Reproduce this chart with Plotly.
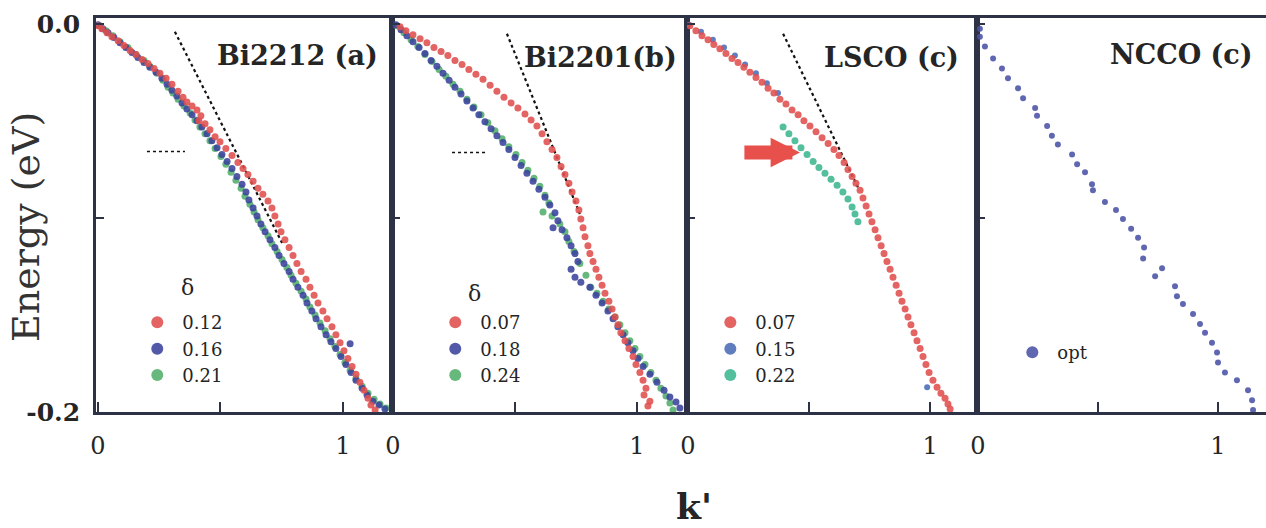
import plotly.graph_objects as go

# ---------------- data: k' (x) and energy in eV (y) ----------------
# Bi2212, doping 0.12 / 0.16 / 0.21
k_bi2212_012 = [0.000, 0.016, 0.037, 0.057, 0.082, 0.106, 0.131, 0.155, 0.180, 0.204,
                0.229, 0.253, 0.278, 0.302, 0.327, 0.347, 0.363, 0.384, 0.404, 0.420,
                0.412, 0.437, 0.457, 0.478, 0.498, 0.522, 0.547, 0.571, 0.592, 0.612,
                0.633, 0.653, 0.673, 0.694, 0.710, 0.722, 0.735, 0.747, 0.763, 0.780,
                0.796, 0.812, 0.829, 0.849, 0.865, 0.882, 0.898, 0.918, 0.935, 0.955,
                0.971, 0.988, 1.004, 1.020, 1.037, 1.053, 1.069, 1.086, 1.102, 1.114, 1.131]
e_bi2212_012 = [-0.0010, -0.0026, -0.0046, -0.0066, -0.0087, -0.0112, -0.0138, -0.0158, -0.0184, -0.0204,
                -0.0230, -0.0255, -0.0281, -0.0311, -0.0347, -0.0378, -0.0403, -0.0423, -0.0444, -0.0474,
                -0.0500, -0.0515, -0.0546, -0.0582, -0.0607, -0.0643, -0.0679, -0.0714, -0.0745, -0.0776,
                -0.0811, -0.0847, -0.0878, -0.0913, -0.0949, -0.0990, -0.1031, -0.1071, -0.1112, -0.1153,
                -0.1194, -0.1235, -0.1276, -0.1316, -0.1357, -0.1398, -0.1439, -0.1480, -0.1520, -0.1561,
                -0.1602, -0.1643, -0.1684, -0.1724, -0.1765, -0.1806, -0.1847, -0.1888, -0.1929, -0.1964, -0.1990]
k_bi2212_016 = [0.000, 0.020, 0.041, 0.065, 0.090, 0.114, 0.139, 0.163, 0.188, 0.212,
                0.237, 0.261, 0.282, 0.302, 0.322, 0.343, 0.363, 0.384, 0.404, 0.424,
                0.445, 0.465, 0.486, 0.506, 0.527, 0.547, 0.567, 0.588, 0.604, 0.616,
                0.633, 0.649, 0.665, 0.682, 0.702, 0.722, 0.739, 0.759, 0.780, 0.796,
                0.816, 0.837, 0.853, 0.873, 0.890, 0.910, 0.931, 0.951, 0.971, 1.029,
                0.992, 1.012, 1.033, 1.053, 1.078, 1.098, 1.122, 1.147, 1.171]
e_bi2212_016 = [-0.0005, -0.0026, -0.0046, -0.0071, -0.0097, -0.0122, -0.0148, -0.0173, -0.0199, -0.0224,
                -0.0250, -0.0281, -0.0311, -0.0342, -0.0372, -0.0408, -0.0439, -0.0469, -0.0500, -0.0531,
                -0.0566, -0.0602, -0.0638, -0.0673, -0.0709, -0.0745, -0.0786, -0.0827, -0.0867, -0.0908,
                -0.0949, -0.0990, -0.1031, -0.1071, -0.1112, -0.1153, -0.1194, -0.1235, -0.1276, -0.1316,
                -0.1357, -0.1398, -0.1439, -0.1480, -0.1520, -0.1561, -0.1602, -0.1638, -0.1673, -0.1648,
                -0.1714, -0.1755, -0.1796, -0.1837, -0.1878, -0.1913, -0.1944, -0.1964, -0.1985]
k_bi2212_021 = [0.008, 0.033, 0.061, 0.090, 0.122, 0.155, 0.188, 0.212, 0.241, 0.265,
                0.286, 0.306, 0.327, 0.351, 0.376, 0.396, 0.416, 0.437, 0.457, 0.478,
                0.502, 0.522, 0.543, 0.563, 0.584, 0.600, 0.620, 0.637, 0.653, 0.673,
                0.694, 0.710, 0.731, 0.751, 0.771, 0.788, 0.808, 0.829, 0.849, 0.865,
                0.886, 0.906, 0.927, 0.947, 0.967, 0.988, 1.008, 1.029, 1.053, 1.078,
                1.102, 1.127, 1.151, 1.176]
e_bi2212_021 = [-0.0010, -0.0036, -0.0061, -0.0092, -0.0122, -0.0158, -0.0189, -0.0219, -0.0255, -0.0291,
                -0.0327, -0.0357, -0.0388, -0.0423, -0.0459, -0.0495, -0.0531, -0.0566, -0.0602, -0.0643,
                -0.0684, -0.0724, -0.0765, -0.0806, -0.0847, -0.0888, -0.0929, -0.0969, -0.1010, -0.1051,
                -0.1092, -0.1133, -0.1173, -0.1214, -0.1255, -0.1296, -0.1337, -0.1378, -0.1418, -0.1459,
                -0.1500, -0.1541, -0.1582, -0.1622, -0.1663, -0.1704, -0.1745, -0.1786, -0.1827, -0.1867,
                -0.1903, -0.1934, -0.1959, -0.1980]

# Bi2201, doping 0.07 / 0.18 / 0.24
k_bi2201_007 = [0.029, 0.053, 0.082, 0.111, 0.139, 0.168, 0.197, 0.225, 0.254, 0.283,
                0.311, 0.340, 0.369, 0.398, 0.426, 0.455, 0.484, 0.512, 0.541, 0.566,
                0.590, 0.611, 0.631, 0.652, 0.672, 0.689, 0.705, 0.721, 0.734, 0.750,
                0.762, 0.770, 0.779, 0.787, 0.799, 0.807, 0.820, 0.832, 0.844, 0.857,
                0.869, 0.885, 0.898, 0.910, 0.922, 0.934, 0.951, 0.967, 0.984, 0.996,
                1.012, 1.025, 1.037, 1.029, 1.053, 1.045]
e_bi2201_007 = [-0.0015, -0.0036, -0.0056, -0.0077, -0.0097, -0.0122, -0.0143, -0.0163, -0.0189, -0.0209,
                -0.0235, -0.0260, -0.0286, -0.0316, -0.0347, -0.0378, -0.0408, -0.0434, -0.0464, -0.0495,
                -0.0526, -0.0566, -0.0607, -0.0648, -0.0689, -0.0735, -0.0776, -0.0821, -0.0867, -0.0913,
                -0.0959, -0.1005, -0.1051, -0.1097, -0.1143, -0.1184, -0.1224, -0.1265, -0.1306, -0.1347,
                -0.1388, -0.1429, -0.1469, -0.1510, -0.1551, -0.1592, -0.1633, -0.1673, -0.1714, -0.1755,
                -0.1796, -0.1837, -0.1878, -0.1913, -0.1944, -0.1969]
k_bi2201_018 = [0.012, 0.033, 0.057, 0.082, 0.107, 0.131, 0.156, 0.180, 0.205, 0.230,
                0.254, 0.279, 0.303, 0.328, 0.352, 0.377, 0.402, 0.426, 0.451, 0.475,
                0.500, 0.525, 0.549, 0.574, 0.598, 0.623, 0.643, 0.664, 0.676, 0.656,
                0.693, 0.713, 0.730, 0.746, 0.758, 0.730, 0.746, 0.770, 0.807, 0.832,
                0.857, 0.881, 0.902, 0.922, 0.943, 0.963, 0.984, 1.004, 1.025, 1.053,
                1.082, 1.111, 1.135, 1.160, 1.176]
e_bi2201_018 = [-0.0005, -0.0031, -0.0061, -0.0092, -0.0122, -0.0153, -0.0189, -0.0219, -0.0255, -0.0291,
                -0.0327, -0.0362, -0.0398, -0.0434, -0.0469, -0.0505, -0.0541, -0.0577, -0.0612, -0.0648,
                -0.0689, -0.0730, -0.0770, -0.0811, -0.0852, -0.0893, -0.0934, -0.0974, -0.1015, -0.1051,
                -0.1061, -0.1102, -0.1143, -0.1184, -0.1224, -0.1265, -0.1306, -0.1332, -0.1357, -0.1398,
                -0.1439, -0.1480, -0.1520, -0.1561, -0.1602, -0.1643, -0.1684, -0.1724, -0.1765, -0.1806,
                -0.1847, -0.1888, -0.1923, -0.1949, -0.1980]
k_bi2201_024 = [0.016, 0.045, 0.074, 0.102, 0.131, 0.160, 0.189, 0.217, 0.246, 0.275,
                0.303, 0.332, 0.361, 0.389, 0.418, 0.447, 0.475, 0.504, 0.529, 0.553,
                0.578, 0.602, 0.623, 0.639, 0.615, 0.652, 0.684, 0.705, 0.721, 0.742,
                0.766, 0.791, 0.811, 0.836, 0.861, 0.885, 0.910, 0.930, 0.951, 0.971,
                0.992, 1.012, 1.033, 1.057, 1.078, 1.098, 1.119, 1.135, 1.148]
e_bi2201_024 = [-0.0010, -0.0046, -0.0082, -0.0117, -0.0158, -0.0194, -0.0235, -0.0270, -0.0311, -0.0347,
                -0.0388, -0.0429, -0.0469, -0.0510, -0.0551, -0.0592, -0.0633, -0.0673, -0.0714, -0.0755,
                -0.0796, -0.0837, -0.0883, -0.0923, -0.0969, -0.0990, -0.1031, -0.1071, -0.1122, -0.1173,
                -0.1235, -0.1296, -0.1357, -0.1388, -0.1429, -0.1469, -0.1510, -0.1551, -0.1592, -0.1633,
                -0.1673, -0.1714, -0.1755, -0.1796, -0.1837, -0.1878, -0.1918, -0.1954, -0.1990]

# LSCO, doping 0.07 / 0.15 / 0.22
k_lsco_007 = [0.008, 0.033, 0.058, 0.083, 0.107, 0.132, 0.157, 0.182, 0.207, 0.231,
              0.256, 0.281, 0.306, 0.331, 0.355, 0.380, 0.405, 0.430, 0.455, 0.479,
              0.504, 0.529, 0.554, 0.579, 0.603, 0.624, 0.645, 0.661, 0.678, 0.694,
              0.711, 0.723, 0.736, 0.748, 0.760, 0.773, 0.785, 0.798, 0.810, 0.822,
              0.835, 0.847, 0.860, 0.872, 0.884, 0.897, 0.909, 0.921, 0.934, 0.946,
              0.959, 0.971, 0.983, 0.996, 1.012, 1.029, 1.045, 1.062, 1.074, 1.083]
e_lsco_007 = [-0.0010, -0.0036, -0.0061, -0.0082, -0.0107, -0.0128, -0.0153, -0.0179, -0.0199, -0.0224,
              -0.0250, -0.0276, -0.0301, -0.0332, -0.0357, -0.0388, -0.0413, -0.0444, -0.0469, -0.0500,
              -0.0526, -0.0556, -0.0587, -0.0617, -0.0648, -0.0679, -0.0714, -0.0750, -0.0786, -0.0821,
              -0.0857, -0.0898, -0.0939, -0.0980, -0.1020, -0.1061, -0.1102, -0.1143, -0.1184, -0.1224,
              -0.1265, -0.1306, -0.1347, -0.1388, -0.1429, -0.1469, -0.1510, -0.1551, -0.1592, -0.1633,
              -0.1673, -0.1714, -0.1755, -0.1796, -0.1837, -0.1872, -0.1903, -0.1929, -0.1959, -0.1985]
k_lsco_015 = [0.004, 0.054, 0.103, 0.149, 0.194, 0.236, 0.281, 0.326, 0.372, 0.988]
e_lsco_015 = [-0.0005, -0.0041, -0.0082, -0.0122, -0.0163, -0.0209, -0.0255, -0.0306, -0.0357, -0.1872]
k_lsco_022 = [0.393, 0.417, 0.442, 0.467, 0.492, 0.517, 0.541, 0.566,
              0.591, 0.616, 0.640, 0.661, 0.678, 0.690, 0.702]
e_lsco_022 = [-0.0531, -0.0566, -0.0602, -0.0638, -0.0673, -0.0709, -0.0740, -0.0770,
              -0.0801, -0.0832, -0.0867, -0.0903, -0.0944, -0.0980, -0.1020]

# NCCO, optimal doping
k_ncco_opt = [0.008, 0.008, 0.029, 0.063, 0.100, 0.125, 0.167, 0.188, 0.238, 0.246,
              0.288, 0.308, 0.333, 0.392, 0.413, 0.446, 0.475, 0.479, 0.529, 0.575,
              0.604, 0.638, 0.667, 0.692, 0.688, 0.767, 0.738, 0.821, 0.829, 0.854,
              0.896, 0.925, 0.946, 0.975, 0.996, 1.000, 1.029, 1.079, 1.125, 1.142, 1.146]
e_ncco_opt = [-0.0026, -0.0066, -0.0117, -0.0179, -0.0230, -0.0281, -0.0332, -0.0383, -0.0434, -0.0474,
              -0.0526, -0.0577, -0.0622, -0.0673, -0.0724, -0.0765, -0.0827, -0.0857, -0.0918, -0.0959,
              -0.1005, -0.1056, -0.1102, -0.1153, -0.1209, -0.1260, -0.1301, -0.1352, -0.1403, -0.1444,
              -0.1495, -0.1546, -0.1592, -0.1643, -0.1694, -0.1745, -0.1796, -0.1837, -0.1888, -0.1939, -0.1990]

# guide lines: high-energy dispersion (dotted) and kink energy (dashed)
dotted_bi2212_k = [0.314, 0.755]
dotted_bi2212_e = [-0.0041, -0.1138]
dotted_bi2201_k = [0.467, 0.766]
dotted_bi2201_e = [-0.0051, -0.0980]
dotted_lsco_k = [0.393, 0.702]
dotted_lsco_e = [-0.0051, -0.0842]
kink_bi2212_k = [0.200, 0.355]
kink_bi2212_e = [-0.0658, -0.0658]
kink_bi2201_k = [0.242, 0.389]
kink_bi2201_e = [-0.0663, -0.0663]
arrow_lsco_k = [0.227, 0.463]   # tail, tip
arrow_lsco_e = -0.0663

panel_titles = ["Bi2212 (a)", "Bi2201(b)", "LSCO (c)", "NCCO (c)"]
x_tick_vals = [0, 0.5, 1]
x_tick_text = ["0", "", "1"]
y_tick_vals = [0.0, -0.1, -0.2]
y_tick_text = ["0.0", "", "-0.2"]

# ---------------- styling ----------------
FONT = "DejaVu Serif"
INK = "#252525"
AXIS = "#2d3246"
RED = "#df4f4c"
BLUE = "#3a429c"
GREEN = "#52ae6a"
BLUE_LSCO = "#4a6cb6"
GREEN_LSCO = "#3cb690"
BLUE_NCCO = "#4a52a6"

X_DOMAINS = [(0.0, 0.2530), (0.2530, 0.5051), (0.5051, 0.7530), (0.7530, 1.0)]
X_RANGES = [(-0.008, 1.2), (-0.004, 1.205), (-0.004, 1.194), (-0.004, 1.2)]
Y_RANGE = (-0.2, 0.003)

fig = go.Figure()


def axis_ids(panel):
    s = "" if panel == 1 else str(panel)
    return "x" + s, "y" + s


def add_points(k, e, color, name, panel, legend, size=7):
    xa, ya = axis_ids(panel)
    fig.add_trace(go.Scatter(
        x=k, y=e, mode="markers", name=name, xaxis=xa, yaxis=ya, legend=legend,
        marker=dict(size=size, color=color, opacity=0.88, line=dict(width=0)),
        hoverinfo="skip"))


def add_guide(k, e, panel, dash, width):
    xa, ya = axis_ids(panel)
    fig.add_trace(go.Scatter(
        x=k, y=e, mode="lines", xaxis=xa, yaxis=ya, showlegend=False,
        line=dict(color="#111111", width=width, dash=dash), hoverinfo="skip"))


# guides first so the points sit on top
add_guide(dotted_bi2212_k, dotted_bi2212_e, 1, "dot", 2.2)
add_guide(dotted_bi2201_k, dotted_bi2201_e, 2, "dot", 2.2)
add_guide(dotted_lsco_k, dotted_lsco_e, 3, "dot", 2.2)
add_guide(kink_bi2212_k, kink_bi2212_e, 1, "3px,3px", 1.6)
add_guide(kink_bi2201_k, kink_bi2201_e, 2, "3px,3px", 1.6)

# panel (a)
add_points(k_bi2212_021, e_bi2212_021, GREEN, "0.21", 1, "legend")
add_points(k_bi2212_016, e_bi2212_016, BLUE, "0.16", 1, "legend")
add_points(k_bi2212_012, e_bi2212_012, RED, "0.12", 1, "legend")
# panel (b)
add_points(k_bi2201_024, e_bi2201_024, GREEN, "0.24", 2, "legend2")
add_points(k_bi2201_018, e_bi2201_018, BLUE, "0.18", 2, "legend2")
add_points(k_bi2201_007, e_bi2201_007, RED, "0.07", 2, "legend2")
# panel (c)
add_points(k_lsco_022, e_lsco_022, GREEN_LSCO, "0.22", 3, "legend3")
add_points(k_lsco_015, e_lsco_015, BLUE_LSCO, "0.15", 3, "legend3", size=6)
add_points(k_lsco_007, e_lsco_007, RED, "0.07", 3, "legend3")
# panel (d)
add_points(k_ncco_opt, e_ncco_opt, BLUE_NCCO, "opt", 4, "legend4", size=6)

layout = dict(
    width=1266, height=528,
    margin=dict(l=96, r=0, t=18, b=116),
    paper_bgcolor="white", plot_bgcolor="white",
    showlegend=True,
    font=dict(family=FONT, color=INK),
)

for i in range(1, 5):
    s = "" if i == 1 else str(i)
    layout["xaxis" + s] = dict(
        domain=list(X_DOMAINS[i - 1]), range=list(X_RANGES[i - 1]), anchor="y" + s,
        tickvals=x_tick_vals, ticktext=x_tick_text, ticks="inside", ticklen=10,
        tickwidth=1.6, tickcolor=AXIS, showline=True, linecolor=AXIS, linewidth=2.6,
        mirror=True, showgrid=False, zeroline=False, ticklabelstandoff=10,
        tickfont=dict(family=FONT, size=24, color=INK), fixedrange=True)
    layout["yaxis" + s] = dict(
        domain=[0, 1], range=list(Y_RANGE), anchor="x" + s,
        tickvals=y_tick_vals, ticktext=y_tick_text if i == 1 else ["", "", ""],
        ticks="inside", ticklen=8, tickwidth=1.6, tickcolor=AXIS,
        showline=True, linecolor=AXIS, linewidth=2.6, mirror=(i < 4),
        showgrid=False, zeroline=False, ticklabelstandoff=8,
        tickfont=dict(family=FONT, size=25, color=INK, weight="bold"), fixedrange=True)

legend_common = dict(
    xanchor="left", yanchor="top", bgcolor="rgba(0,0,0,0)",
    font=dict(family=FONT, size=18, color=INK), itemsizing="constant",
    traceorder="reversed", tracegroupgap=0, itemwidth=40,
    itemclick=False, itemdoubleclick=False)
layout["legend"] = dict(legend_common, x=0.0310, y=0.274)
layout["legend2"] = dict(legend_common, x=0.2857, y=0.274)
layout["legend3"] = dict(legend_common, x=0.5208, y=0.274)
layout["legend4"] = dict(legend_common, x=0.7789, y=0.198)

annotations = []
title_pos = [(0.1722, 0.906), (0.4316, 0.900), (0.6803, 0.900), (0.9274, 0.908)]
for txt, (px, py) in zip(panel_titles, title_pos):
    annotations.append(dict(
        text=txt, x=px, y=py, xref="paper", yref="paper", showarrow=False,
        xanchor="center", yanchor="middle",
        font=dict(family=FONT, size=27, color=INK, weight="bold")))

# doping symbol above legends (a) and (b)
for px, py in [(0.0786, 0.317), (0.3239, 0.302)]:
    annotations.append(dict(
        text="δ", x=px, y=py, xref="paper", yref="paper", showarrow=False,
        xanchor="center", yanchor="middle",
        font=dict(family=FONT, size=22, color=INK)))

annotations.append(dict(
    text="Energy (eV)", x=-0.0598, y=0.4695, xref="paper", yref="paper",
    showarrow=False, textangle=-90, xanchor="center", yanchor="middle",
    font=dict(family=FONT, size=38, color="#333333")))
annotations.append(dict(
    text="k'", x=0.5111, y=-0.2386, xref="paper", yref="paper",
    showarrow=False, xanchor="center", yanchor="middle",
    font=dict(family=FONT, size=36, color=INK, weight="bold")))

# kink marker arrow in the LSCO panel
annotations.append(dict(
    text="", x=arrow_lsco_k[1], y=arrow_lsco_e, ax=arrow_lsco_k[0], ay=arrow_lsco_e,
    xref="x3", yref="y3", axref="x3", ayref="y3", showarrow=True,
    arrowhead=2, arrowsize=0.42, arrowwidth=14, arrowcolor="#e8504c", standoff=0))

layout["annotations"] = annotations
fig.update_layout(**layout)

fig.write_html("out.html")
